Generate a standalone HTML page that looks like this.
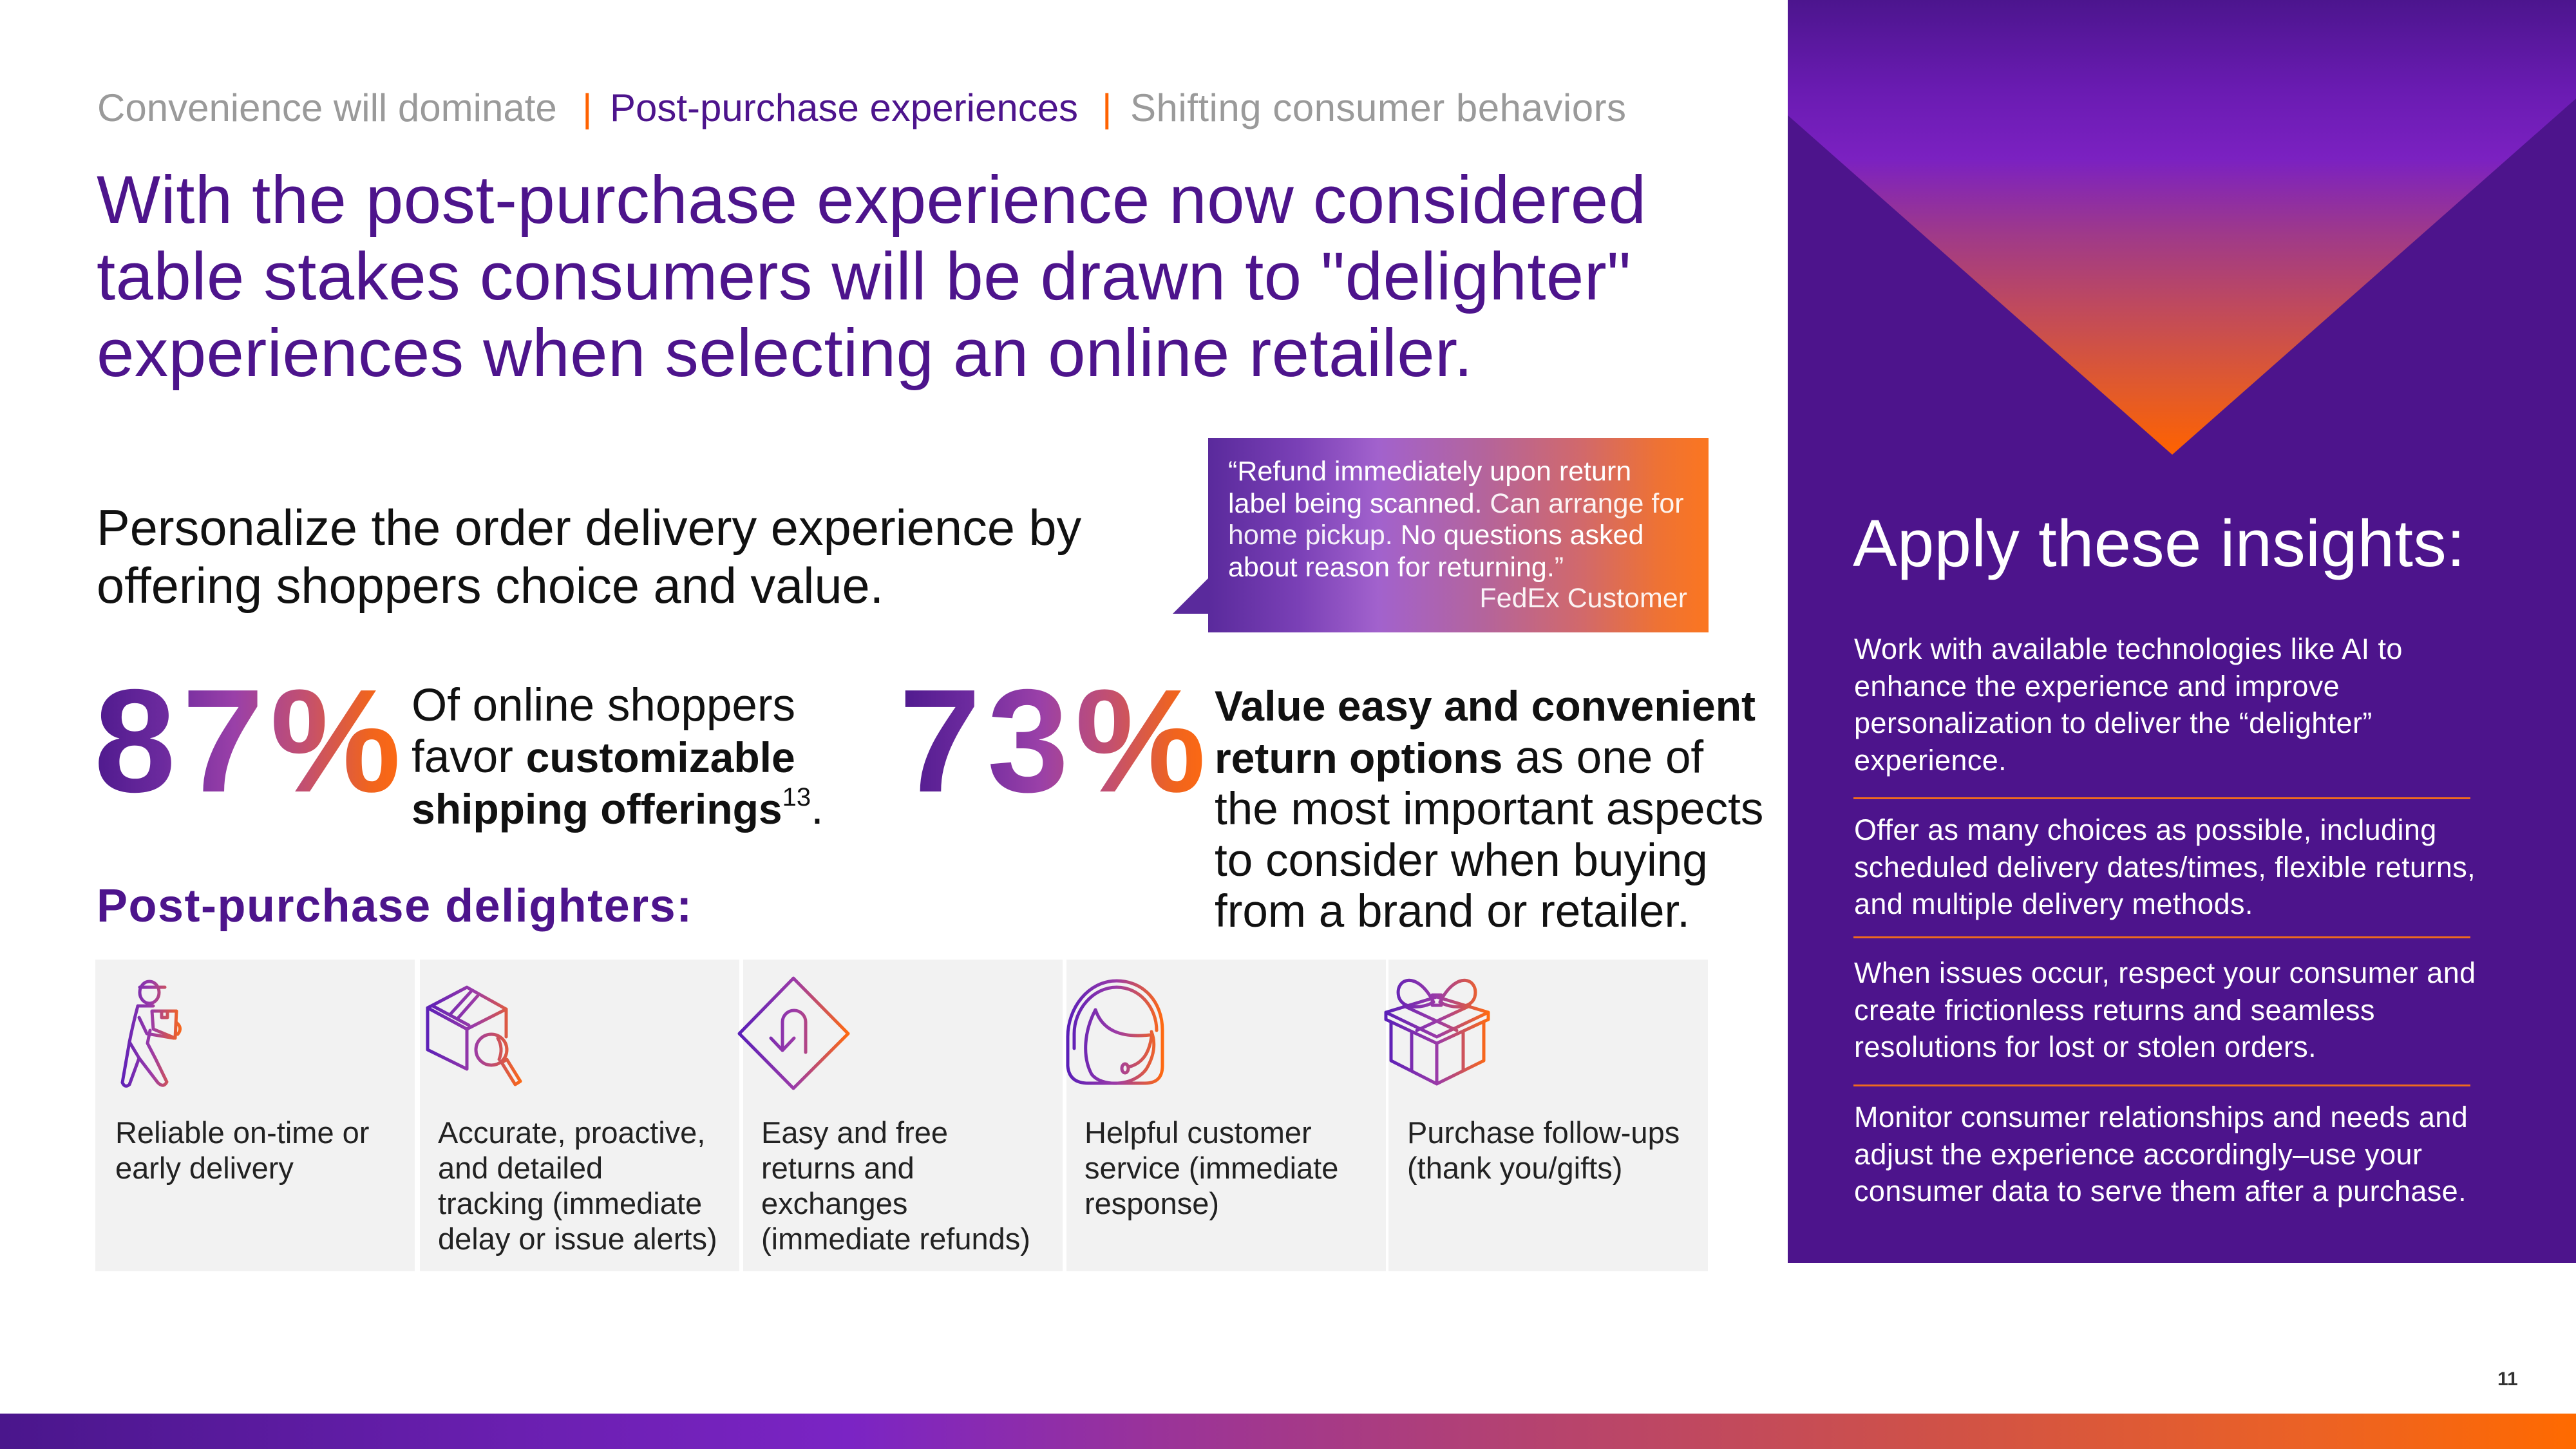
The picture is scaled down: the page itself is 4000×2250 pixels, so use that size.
<!DOCTYPE html>
<html><head><meta charset="utf-8">
<style>
html,body{margin:0;padding:0;}
body{width:4000px;height:2250px;position:relative;overflow:hidden;background:#fff;font-family:"Liberation Sans",sans-serif;}
.a{position:absolute;white-space:nowrap;}
.crumb{font-size:60px;line-height:72px;top:132px;}
.head{left:150px;top:251px;font-size:105px;line-height:119px;color:#4d148c;letter-spacing:0.4px;}
.pers{left:150px;top:775px;font-size:77.5px;line-height:90px;color:#111;}
.big{font-size:228px;line-height:228px;letter-spacing:10px;font-weight:bold;background:linear-gradient(90deg,#4f1a8e 0%,#6c2a9e 22%,#9a40a8 45%,#c4506e 68%,#f0641e 88%,#ff6a10 100%);-webkit-background-clip:text;background-clip:text;color:transparent;top:1037px;}
.stat{font-size:71px;line-height:79.5px;color:#111;top:1056px;}
.stat b{font-size:66px;letter-spacing:0px;}
.card{position:absolute;top:1490px;width:496px;height:484px;background:#f2f2f2;}
.ct{position:absolute;left:31px;top:241px;font-size:47px;line-height:55px;color:#222;white-space:nowrap;}
.pt{font-size:45px;line-height:57.5px;color:#fff;left:2879px;letter-spacing:0.4px;}
.div{position:absolute;left:2878px;width:958px;height:3px;background:#f06a1e;}
.l{opacity:0.92;}
</style></head><body>

<!-- breadcrumb -->
<div class="a crumb" style="left:151px;color:#9a9a9a;">Convenience will dominate</div>
<div class="a crumb" style="left:904px;color:#ff6200;">|</div>
<div class="a crumb" style="left:947px;color:#4d148c;">Post-purchase experiences</div>
<div class="a crumb" style="left:1711px;color:#ff6200;">|</div>
<div class="a crumb" style="left:1755px;color:#9a9a9a;letter-spacing:0.5px;">Shifting consumer behaviors</div>

<!-- headline -->
<div class="a head">With the post-purchase experience now considered<br>table stakes consumers will be drawn to "delighter"<br>experiences when selecting an online retailer.</div>

<div class="a pers">Personalize the order delivery experience by<br>offering shoppers choice and value.</div>

<!-- quote box -->
<div class="a" style="left:1876px;top:680px;width:777px;height:302px;background:linear-gradient(90deg,#5a2a9c 0%,#7a40b6 18%,#a262cd 34%,#b4649c 55%,#d2696a 75%,#ee7234 90%,#fb7620 100%);"></div>
<svg class="a" style="left:0;top:0;" width="4000" height="2250" viewBox="0 0 4000 2250">
  <polygon points="1821,953 1877,897 1877,953" fill="#5a2a9c"/>
</svg>
<div class="a" style="left:1907px;top:708px;font-size:43px;line-height:49.5px;color:#fff;">“Refund immediately upon return<br>label being scanned. <span class="l">Can arrange for</span><br><span class="l">home pickup.</span> No questions asked<br>about reason for returning.<span class="l">”</span></div>
<div class="a l" style="right:1380px;top:905px;font-size:43px;line-height:49.5px;color:#fff;">FedEx Customer</div>

<!-- stats -->
<div class="a big" style="left:146px;">87%</div>
<div class="a stat" style="left:639px;">Of online shoppers<br>favor <b>customizable</b><br><b>shipping offerings</b><span style="font-size:40px;position:relative;top:-28px;">13</span>.</div>

<div class="a big" style="left:1396px;">73%</div>
<div class="a stat" style="left:1886px;"><b>Value easy and convenient</b><br><b>return options</b> as one of<br>the most important aspects<br>to consider when buying<br>from a brand or retailer.</div>

<div class="a" style="left:150px;top:1367px;font-size:72px;line-height:80px;font-weight:bold;color:#4d148c;letter-spacing:1.5px;">Post-purchase delighters:</div>

<!-- cards -->
<div class="card" style="left:148px;"><div class="ct">Reliable on-time or<br>early delivery</div></div>
<div class="card" style="left:652px;"><div class="ct" style="left:28px;">Accurate, proactive,<br>and detailed<br>tracking (immediate<br>delay or issue alerts)</div></div>
<div class="card" style="left:1154px;"><div class="ct" style="left:28px;">Easy and free<br>returns and<br>exchanges<br>(immediate refunds)</div></div>
<div class="card" style="left:1656px;"><div class="ct" style="left:28px;">Helpful customer<br>service (immediate<br>response)</div></div>
<div class="card" style="left:2156px;"><div class="ct" style="left:29px;">Purchase follow-ups<br>(thank you/gifts)</div></div>

<!-- icons -->
<svg class="a" style="left:0;top:0;" width="4000" height="2250" viewBox="0 0 4000 2250" fill="none" stroke-width="5" stroke-linecap="round" stroke-linejoin="round">
  <defs>
    <linearGradient id="g1" gradientUnits="userSpaceOnUse" x1="185" y1="0" x2="285" y2="0"><stop offset="0" stop-color="#5a1fb8"/><stop offset="0.5" stop-color="#9a3aa8"/><stop offset="1" stop-color="#ff6a10"/></linearGradient>
    <linearGradient id="g2" gradientUnits="userSpaceOnUse" x1="660" y1="0" x2="812" y2="0"><stop offset="0" stop-color="#5a1fb8"/><stop offset="0.5" stop-color="#9a3aa8"/><stop offset="1" stop-color="#ff6a10"/></linearGradient>
    <linearGradient id="g3" gradientUnits="userSpaceOnUse" x1="1148" y1="0" x2="1317" y2="0"><stop offset="0" stop-color="#5a1fb8"/><stop offset="0.5" stop-color="#9a3aa8"/><stop offset="1" stop-color="#ff6a10"/></linearGradient>
    <linearGradient id="g4" gradientUnits="userSpaceOnUse" x1="1657" y1="0" x2="1806" y2="0"><stop offset="0" stop-color="#5a1fb8"/><stop offset="0.5" stop-color="#9a3aa8"/><stop offset="1" stop-color="#ff6a10"/></linearGradient>
    <linearGradient id="g5" gradientUnits="userSpaceOnUse" x1="2152" y1="0" x2="2311" y2="0"><stop offset="0" stop-color="#5a1fb8"/><stop offset="0.5" stop-color="#9a3aa8"/><stop offset="1" stop-color="#ff6a10"/></linearGradient>
  </defs>
  <!-- person -->
  <g stroke="url(#g1)">
    <ellipse cx="232" cy="1541" rx="15" ry="17"/>
    <line x1="217" y1="1533" x2="256" y2="1533"/>
    <path d="M214,1562 L238,1562"/>
    <path d="M214,1562 Q206,1592 201,1618 L190,1681 Q194,1690 201,1684 L216,1643"/>
    <path d="M216,1643 L245,1681 Q254,1690 259,1680 L242,1645 L229,1620 L233,1600"/>
    <path d="M201,1618 L216,1643"/>
    <path d="M216,1580 L228,1605 L270,1612"/>
    <polygon points="236,1570 274,1570 272,1612 238,1598"/>
    <rect x="251" y="1570" width="9" height="10"/>
    <path d="M274,1588 Q284,1596 276,1606"/>
  </g>
  <!-- box + magnifier -->
  <g stroke="url(#g2)">
    <polygon points="725,1533 786,1567 725,1598 664,1565"/>
    <polyline points="664,1565 664,1630 725,1660 725,1598"/>
    <line x1="786" y1="1567" x2="786" y2="1610"/>
    <line x1="672" y1="1562" x2="728" y2="1592"/>
    <line x1="731" y1="1540" x2="700" y2="1574"/>
    <line x1="742" y1="1546" x2="712" y2="1580"/>
    <circle cx="763" cy="1630" r="24"/>
    <path d="M773,1612 Q782,1628 775,1645"/>
    <polygon points="779,1650 787,1645 808,1679 800,1684"/>
  </g>
  <!-- diamond u-turn -->
  <g stroke="url(#g3)">
    <polygon points="1232,1519 1317,1605 1232,1690 1148,1605"/>
    <path d="M1251,1634 L1251,1587 A18,18 0 0 0 1215,1587 L1215,1630"/>
    <path d="M1197,1612 L1215,1631 L1233,1612"/>
  </g>
  <!-- head / headset -->
  <g stroke="url(#g4)">
    <path d="M1734,1523 C1690,1523 1658,1565 1658,1610 L1658,1655 Q1660,1682 1690,1682 L1778,1682 Q1805,1682 1805,1655 L1805,1600 C1805,1555 1775,1523 1734,1523 Z"/>
    <path d="M1668,1628 L1668,1605 C1668,1568 1697,1533 1734,1533 C1770,1533 1796,1565 1796,1600"/>
    <path d="M1701,1568 C1684,1600 1680,1640 1695,1668 C1710,1688 1760,1688 1780,1660 C1792,1640 1795,1620 1788,1602"/>
    <path d="M1701,1568 C1712,1600 1740,1612 1786,1607"/>
    <path d="M1752,1657 C1772,1652 1784,1638 1788,1610"/>
    <ellipse cx="1747" cy="1659" rx="5" ry="7"/>
  </g>
  <!-- gift -->
  <g stroke="url(#g5)">
    <polygon points="2231,1548 2311,1572 2231,1610 2152,1572"/>
    <polyline points="2152,1572 2152,1583 2231,1620 2311,1583 2311,1572"/>
    <polyline points="2160,1587 2160,1647 2231,1683 2304,1647 2304,1587"/>
    <line x1="2231" y1="1620" x2="2231" y2="1683"/>
    <line x1="2192" y1="1602" x2="2192" y2="1663"/>
    <line x1="2272" y1="1602" x2="2272" y2="1663"/>
    <line x1="2180" y1="1562" x2="2262" y2="1600"/>
    <line x1="2282" y1="1562" x2="2200" y2="1600"/>
    <path d="M2226,1556 C2200,1505 2165,1520 2172,1548 C2178,1568 2210,1566 2226,1556 Z"/>
    <path d="M2236,1556 C2262,1505 2297,1520 2290,1548 C2284,1568 2252,1566 2236,1556 Z"/>
    <rect x="2224" y="1545" width="14" height="16"/>
  </g>
</svg>

<!-- right panel -->
<div class="a" style="left:2776px;top:0;width:1224px;height:1961px;background:#4d148c;"></div>
<div class="a" style="left:2776px;top:0;width:1224px;height:706px;background:linear-gradient(180deg,#4c158e 0%,#6a1bb2 20%,#7b21c1 35%,#a03a88 52%,#c04a5c 68%,#e25a2a 86%,#ff6200 100%);clip-path:polygon(0 0,1224px 0,1224px 153px,597px 706px,0 179px);"></div>
<div class="a" style="left:2877px;top:784px;font-size:103px;line-height:120px;color:#fff;letter-spacing:0.3px;">Apply these insights:</div>

<div class="a pt" style="top:979px;">Work with available technologies like AI to<br>enhance the experience and improve<br>personalization to deliver the “delighter”<br>experience.</div>
<div class="div" style="top:1238px;"></div>
<div class="a pt" style="top:1260px;">Offer as many choices as possible, including<br>scheduled delivery dates/times, flexible returns,<br>and multiple delivery methods.</div>
<div class="div" style="top:1454px;"></div>
<div class="a pt" style="top:1482px;">When issues occur, respect your consumer and<br>create frictionless returns and seamless<br>resolutions for lost or stolen orders.</div>
<div class="div" style="top:1684px;"></div>
<div class="a pt" style="top:1706px;">Monitor consumer relationships and needs and<br>adjust the experience accordingly–use your<br>consumer data to serve them after a purchase.</div>

<!-- page number -->
<div class="a" style="left:3878px;top:2127px;font-size:30px;line-height:30px;font-weight:bold;color:#333;">11</div>

<!-- bottom bar -->
<div class="a" style="left:0;top:2195px;width:4000px;height:55px;background:linear-gradient(90deg,#4a168c 0%,#6a1fb0 20%,#7b24c4 33%,#9a3399 45%,#b6436e 60%,#cf5148 75%,#ec6224 90%,#ff6a00 100%);"></div>

</body></html>
